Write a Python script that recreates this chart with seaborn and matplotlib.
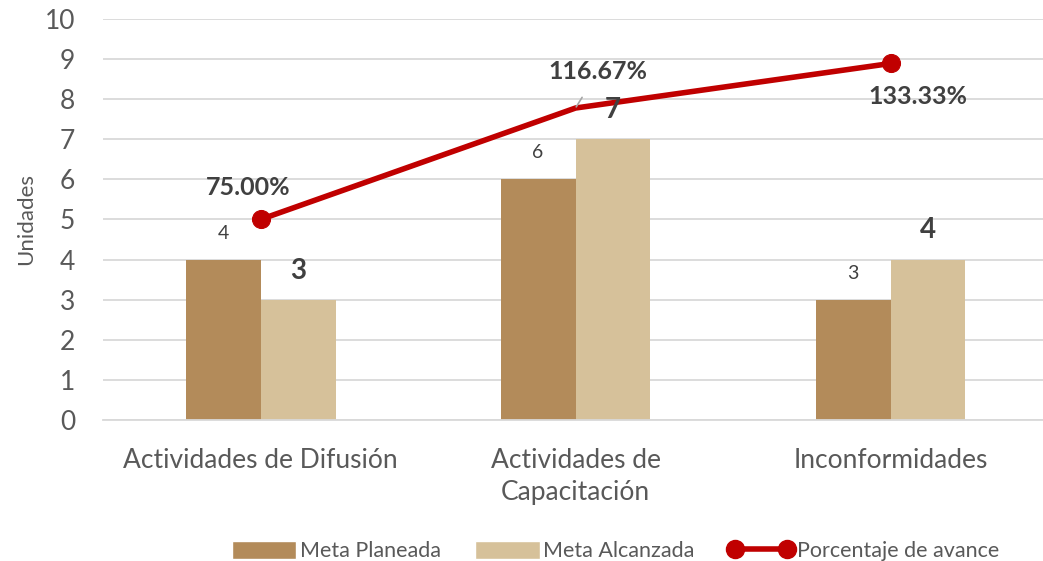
import matplotlib.pyplot as plt
import seaborn as sns
import pandas as pd
import numpy as np
from matplotlib.patches import Patch
from matplotlib.lines import Line2D

sns.set_theme(style='white')
plt.rcParams['font.family'] = ['Lato', 'DejaVu Sans']

categorias = ['Actividades de Difusión', 'Actividades de\nCapacitación', 'Inconformidades']
meta_planeada = [4, 6, 3]
meta_alcanzada = [3, 7, 4]
porcentaje = [0.75, 1.1667, 1.3333]
etiquetas_pct = ['75.00%', '116.67%', '133.33%']

c_plan = '#B38B5A'
c_alc = '#D6C19A'
c_linea = '#C00000'
gris = '#595959'

df = pd.DataFrame({
    'categoria': categorias * 2,
    'valor': meta_planeada + meta_alcanzada,
    'serie': ['Meta Planeada'] * 3 + ['Meta Alcanzada'] * 3,
})

fig = plt.figure(figsize=(10.43, 5.61), dpi=100)
ax = fig.add_axes([0.0988, 0.2513, 0.906, 0.715])

sns.barplot(data=df, x='categoria', y='valor', hue='serie',
            palette=[c_plan, c_alc], width=0.476, gap=0, linewidth=0,
            saturation=1, legend=False, ax=ax, zorder=2)

ax.set_xlim(-0.5, 2.5)
ax.set_ylim(0, 10)
ax.set_yticks(range(0, 11))
ax.yaxis.grid(True, color='#D9D9D9', linewidth=1.3, zorder=0)
ax.set_axisbelow(True)
for s in ['top', 'right', 'left']:
    ax.spines[s].set_visible(False)
ax.spines['bottom'].set_color('#D9D9D9')
ax.spines['bottom'].set_linewidth(1.3)
ax.tick_params(axis='y', length=0, labelsize=19, labelcolor=gris, pad=20)
ax.tick_params(axis='x', which='major', length=0, labelsize=19, labelcolor=gris, pad=20)
for lbl in ax.get_xticklabels():
    lbl.set_linespacing(1.35)
ax.set_xticks(np.arange(-0.5, 3.0, 1.0), minor=True)
ax.tick_params(axis='x', which='minor', length=8, color='#D9D9D9', width=1.3)
ax.set_xlabel('')
ax.set_ylabel('Unidades', fontsize=16, color=gris, labelpad=6)

# línea de porcentaje en eje secundario
ax2 = ax.twinx()
x_pos = np.arange(len(categorias))
sns.lineplot(x=x_pos, y=porcentaje, ax=ax2, color=c_linea, linewidth=4,
             marker='o', markersize=13, markeredgecolor=c_linea, markevery=[0, 2],
             sort=False, zorder=5)
ax2.set_ylim(0, 1.5)
ax2.set_yticks([])
ax2.set_ylabel('')
for s in ax2.spines.values():
    s.set_visible(False)

# etiquetas de barras (encima de la línea)
bars_plan = ax.containers[0]
bars_alc = ax.containers[1]
for rect, v in zip(bars_plan, meta_planeada):
    ax2.annotate(str(v), (rect.get_x() + rect.get_width() / 2, v), xycoords=ax.transData,
                 xytext=(0, 19), textcoords='offset points',
                 ha='center', va='center', fontsize=14, color='#404040', zorder=10)
for rect, v in zip(bars_alc, meta_alcanzada):
    ax2.annotate(str(v), (rect.get_x() + rect.get_width() / 2, v), xycoords=ax.transData,
                 xytext=(0, 21), textcoords='offset points',
                 ha='center', va='center', fontsize=20, fontweight='bold',
                 color='#404040', zorder=10)

offsets = [(-9, 23), (16, 26), (20, -24)]
for i, (p, t, off) in enumerate(zip(porcentaje, etiquetas_pct, offsets)):
    arrow = dict(arrowstyle='-', color='#A6A6A6', lw=1.2, shrinkA=9, shrinkB=1) if i == 1 else None
    ax2.annotate(t, (x_pos[i], p), xytext=off, textcoords='offset points',
                 ha='center', va='center', fontsize=18, fontweight='bold',
                 color='#404040', arrowprops=arrow, zorder=10)

handles = [
    Patch(facecolor=c_plan, label='Meta Planeada'),
    Patch(facecolor=c_alc, label='Meta Alcanzada'),
    Line2D([0], [0], color=c_linea, linewidth=4, marker='o', markersize=13,
           label='Porcentaje de avance'),
]
fig.legend(handles=handles, loc='lower center', bbox_to_anchor=(0.59, -0.035),
           ncol=3, frameon=False, fontsize=15.5, labelcolor=gris, numpoints=2,
           handlelength=3.0, handleheight=0.9, handletextpad=0.15, columnspacing=1.6)

fig.savefig('out.png', dpi=100)
